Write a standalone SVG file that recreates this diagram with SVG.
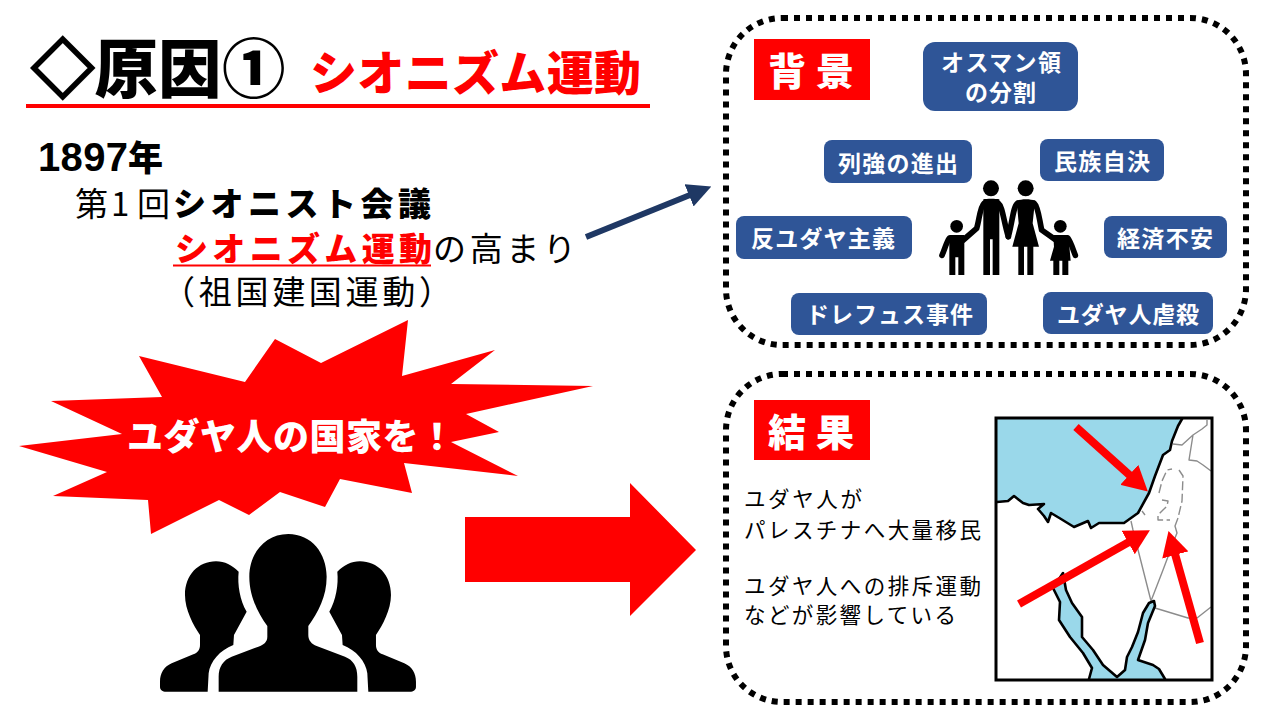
<svg xmlns="http://www.w3.org/2000/svg" xmlns:xlink="http://www.w3.org/1999/xlink" width="1280" height="720" viewBox="0 0 1280 720">
<style>
text{font-family:"Noto Sans CJK JP","Liberation Sans",sans-serif}
.b{font-weight:900}
.frame{fill:none;stroke:#000;stroke-width:6;stroke-dasharray:6 6}
.bx{fill:#2f5597}
.bt{fill:#fff;font-weight:700;font-size:23px}
.rb{fill:#f00}
.rt{fill:#fff;font-weight:900;font-size:38px}
.r{fill:#f00}
.m{font-size:21.5px;fill:#000}
.l{font-size:33px}
.coast{fill:none;stroke:#000;stroke-width:2.6;stroke-linejoin:round;stroke-linecap:round}
.gray{fill:none;stroke:#8c8c8c;stroke-width:1.4;stroke-linejoin:round}
.dash{stroke-dasharray:9 3.5}
.ra{stroke:#f00;stroke-width:8;fill:none}
</style>
<defs>
<marker id="h" markerUnits="userSpaceOnUse" markerWidth="25" markerHeight="27" refX="1" refY="13.5" orient="auto"><path d="M0 0L25 13.5L0 27z" fill="#f00"/></marker>
<marker id="hb" markerUnits="userSpaceOnUse" markerWidth="24" markerHeight="24" refX="1" refY="12" orient="auto"><path d="M0 0L24 12L0 24z" fill="#1f3864"/></marker>
<path id="sidep" d="M296 155C275 135 255 124 228 124C175 124 135 165 135 225C135 270 160 315 180 345L180 375C180 390 172 398 160 403L95 430C72 440 60 460 60 485L60 500C60 510 68 515 78 515L203 515L206 460C210 425 240 390 280 375L282 345L320 275C300 240 292 195 296 155Z"/>
</defs>
<rect width="1280" height="720" fill="#fff"/>

<g id="title">
<text class="b" y="92" font-size="63.5"><tspan x="31" stroke="#000" stroke-width="2.5">◇</tspan><tspan x="94.5 158 222">原因①</tspan></text>
<text class="b" x="310" y="90" font-size="47" fill="#f00" textLength="331">シオニズム運動</text>
<rect x="26" y="104" width="624" height="4" fill="#f00"/>
</g>

<g id="cause-text">
<text class="b" y="171"><tspan x="38" font-size="40" font-weight="700" font-family="Liberation Sans" textLength="90">1897</tspan><tspan x="128" font-size="35">年</tspan></text>
<text class="l" x="75 111 137" y="216">第1回</text>
<text class="l b" x="173" y="216" textLength="258">シオニスト会議</text>
<rect x="173" y="264.5" width="258" height="2" fill="#f00"/>
<text class="l"><tspan class="b" x="175" y="261" fill="#f00" textLength="257">シオニズム運動</tspan><tspan x="433" y="261" textLength="143">の高まり</tspan><tspan x="162" y="304" textLength="290">（祖国建国運動）</tspan></text>
</g>

<g id="burst">
<polygon class="r" points="408,320 402,376 495,350 451,384 593,386 466,414 499,432 451,442 518,476 404,463 412,493 340,479 325,507 280,492 249,515 219,500 151,534 148,500 53,496 107,472 19,446 122,434 51,401 162,397 139,356 245,382 275,339 321,363"/>
<text x="127" y="450" class="b" font-size="36" fill="#fff" textLength="328">ユダヤ人の国家を！</text>
</g>

<g id="people" transform="translate(140 520) scale(.3333)">
<use href="#sidep"/>
<use href="#sidep" transform="translate(888 0) scale(-1 1)"/>
<path d="M445 42C375 42 328 100 328 170C328 230 355 280 382 318L382 350C382 365 372 374 355 380L275 410C250 420 236 440 236 470L236 515L652 515L652 470C652 440 640 420 615 410L530 378C515 372 505 362 505 345L505 318C535 275 560 230 560 170C560 100 515 42 445 42Z"/>
</g>

<g id="connectors">
<polygon class="r" points="465,517 630,517 630,483 696,550 630,616 630,582 465,582"/>
<line x1="586" y1="237" x2="690" y2="195" stroke="#1f3864" stroke-width="6" marker-end="url(#hb)"/>
</g>

<g id="background-panel">
<rect class="frame" x="726" y="18" width="520" height="327" rx="56"/>
<g id="n-bg"><rect class="rb" x="754" y="39" width="116" height="61"/><text class="rt" x="768 816" y="85">背景</text></g>
<g id="n-ottoman"><rect class="bx" x="923" y="42" width="155" height="69" rx="12"/><text class="bt"><tspan x="941" y="71" textLength="120">オスマン領</tspan><tspan x="965" y="101" textLength="71">の分割</tspan></text></g>
<g id="n-powers"><rect class="bx" x="824" y="140" width="148" height="43" rx="8"/><text class="bt" x="838" y="172" textLength="120">列強の進出</text></g>
<g id="n-self"><rect class="bx" x="1040" y="139" width="124" height="42" rx="8"/><text class="bt" x="1054" y="170" textLength="96">民族自決</text></g>
<g id="n-anti"><rect class="bx" x="736" y="216" width="176" height="43" rx="8"/><text class="bt" x="751" y="247" textLength="144">反ユダヤ主義</text></g>
<g id="n-econ"><rect class="bx" x="1104" y="216" width="123" height="42" rx="8"/><text class="bt" x="1117" y="247" textLength="96">経済不安</text></g>
<g id="n-dreyfus"><rect class="bx" x="791" y="293" width="196" height="42" rx="8"/><text class="bt" x="806" y="323" textLength="167">ドレフュス事件</text></g>
<g id="n-massacre"><rect class="bx" x="1043" y="292" width="170" height="42" rx="8"/><text class="bt" x="1057" y="323" textLength="142">ユダヤ人虐殺</text></g>
<g id="family" transform="translate(920 170) scale(.3333)">
<circle cx="213" cy="55" r="24"/><circle cx="317" cy="55" r="24"/><circle cx="110" cy="169" r="19"/><circle cx="421" cy="169" r="19"/>
<path d="M190 88C200 86 226 86 238 88L238 315L218 315L218 208L210 208L210 315L190 315Z"/>
<path d="M290 92C305 86 332 86 345 92L338 160L357 230L340 230L340 315L322 315L322 230L312 230L312 315L295 315L295 230L277 230L296 160Z"/>
<path d="M88 195L133 195L133 315L115 315L115 262L106 262L106 315L88 315Z"/>
<path d="M400 195L445 195L452 272L445 272L445 315L427 315L427 272L418 272L418 315L400 315L400 272L390 272L402 230Z"/>
<g fill="none" stroke="#000" stroke-width="17" stroke-linecap="round" stroke-linejoin="round">
<path d="M192 100C180 110 178 150 170 175L130 210"/>
<path d="M235 100C248 110 250 150 265 200"/>
<path d="M292 100C280 110 278 150 265 200"/>
<path d="M343 100C355 110 358 150 365 180L405 208"/>
<path d="M88 205C80 215 75 235 66 256"/>
<path d="M444 205C452 215 458 235 466 256"/>
</g>
</g>
</g>

<g id="result-panel">
<rect class="frame" x="726" y="374" width="520" height="328" rx="56"/>
<g id="n-result"><rect class="rb" x="754" y="400" width="116" height="60"/><text class="rt" x="768 816" y="446">結果</text></g>
<g id="result-text">
<text class="m" x="744" y="507" textLength="118">ユダヤ人が</text>
<text class="m" x="744" y="538" textLength="237">パレスチナへ大量移民</text>
<text class="m" x="744" y="594" textLength="237">ユダヤ人への排斥運動</text>
<text class="m" x="744" y="623" textLength="212">などが影響している</text>
</g>
<g id="map">
<rect x="996" y="418" width="216" height="262" fill="#fff"/>
<path fill="#9ad8ea" d="M997 502L1008 501L1014 496L1023 503L1029 505L1044 504L1038 509L1044 516L1048 522L1051 513L1061 519L1074 527L1088 521L1091 528L1099 523L1124 523L1138 513L1149 493L1155 476L1163 455L1170 450L1172 441L1178 426L1182 419L997 419Z"/>
<path fill="#9ad8ea" d="M1063 573L1053 588L1060 602L1059 620L1070 637L1083 653L1092 668L1089 679L1165 679L1159 669L1153 665L1138 660L1145 640L1148 623L1155 606L1154 601L1149 603L1143 613L1138 632L1132 647L1127 657L1125 670L1117 677L1103 665L1093 650L1082 637L1082 617L1072 603L1066 590Z"/>
<path class="gray" d="M1131 521L1133 530L1151 601L1163 570L1175 538L1177 533L1175 526L1178 518M1155 608L1188 618L1197 618L1211 607M1173 444L1182 445L1193 435L1202 429L1207 425L1207 420M1193 435L1189 460L1197 461L1203 465L1211 471"/>
<path class="gray dash" stroke-width="1.6" d="M1159 493L1162 481L1167 470L1172 469M1179 470L1183 476L1182 501L1178 518M1162 500L1168 501L1167 506L1158 515L1158 520L1170 520M1142 511L1145 515"/>
<path class="coast" d="M997 502L1008 501L1014 496L1023 503L1029 505L1044 504L1038 509L1044 516L1048 522L1051 513L1061 519L1074 527L1088 521L1091 528L1099 523L1124 523L1138 513L1149 493L1155 476L1163 455L1170 450L1172 441L1178 426L1182 419"/>
<path class="coast" d="M1089 679L1092 668L1083 653L1070 637L1059 620L1060 602L1053 588L1063 573L1066 590L1072 603L1082 617L1082 637L1093 650L1103 665L1117 677L1125 670L1127 657L1132 647L1138 632L1143 613L1149 603L1154 601L1155 606L1148 623L1145 640L1138 660L1153 665L1159 669L1165 679"/>
<rect x="996" y="418" width="216" height="262" fill="none" stroke="#000" stroke-width="3"/>
</g>
<g id="map-arrows">
<line class="ra" x1="1076" y1="427" x2="1130" y2="475.5" marker-end="url(#h)"/>
<line class="ra" x1="1019" y1="604" x2="1129" y2="542" marker-end="url(#h)"/>
<line class="ra" x1="1200" y1="643" x2="1175" y2="554" marker-end="url(#h)"/>
</g>
</g>
</svg>
